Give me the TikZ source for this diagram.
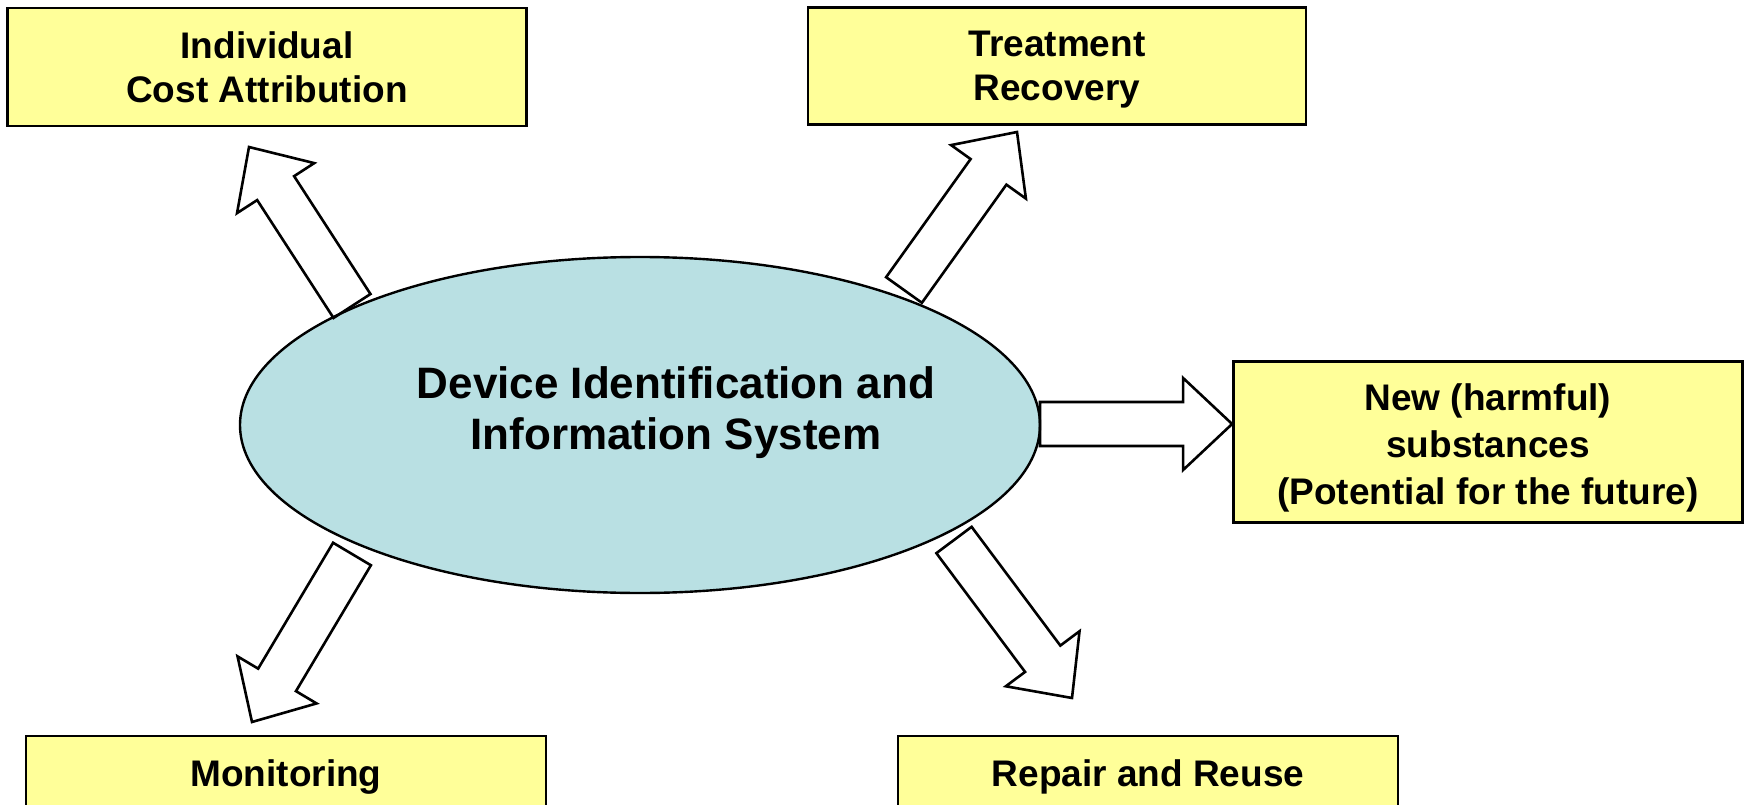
\documentclass[tikz,border=0pt]{standalone}
\usepackage{fontspec}
\setmainfont{Liberation Sans}
\usetikzlibrary{calc,shapes.geometric}
\definecolor{boxyellow}{RGB}{255,255,153}
\definecolor{ellblue}{RGB}{185,224,227}
\newcommand\blockarrow[2]{%
  \coordinate (#1-b) at ($(#2)!49pt!(#1)$);
  \draw[barrow] ($(#1)!22pt!90:(#2)$) -- ($(#1-b)!22pt!-90:(#1)$) -- ($(#1-b)!46pt!-90:(#1)$) -- (#2) -- ($(#1-b)!46pt!90:(#1)$) -- ($(#1-b)!22pt!90:(#1)$) -- ($(#1)!22pt!-90:(#2)$) -- cycle;}
\begin{document}
\begin{tikzpicture}[x=1pt,y=-1pt,
  box/.style={draw=black,line width=2.8pt,fill=boxyellow,rectangle,inner sep=0pt,align=center,
    font=\fontsize{37}{44}\selectfont\bfseries},
  ell/.style={draw=black,line width=2.4pt,fill=ellblue,ellipse,inner sep=0pt,minimum width=800pt,minimum height=336pt},
  elltext/.style={align=center,inner sep=0pt,font=\fontsize{44}{51}\selectfont\bfseries},
  barrow/.style={draw=black,line width=2.6pt,line join=miter}]
\useasboundingbox (0,0) rectangle (1749,805);
\clip (0,0) rectangle (1749,805);
\fill[white] (0,0) rectangle (1749,805);

\node[box,minimum width=519pt,minimum height=118pt] (cost) at (267,67) {Individual\\Cost Attribution};
\node[box,minimum width=498pt,minimum height=117pt] (treat) at (1057,66) {Treatment\\Recover\smash{y}};
\node[box,minimum width=509pt,minimum height=161pt,font=\fontsize{37}{47}\selectfont\bfseries] (new) at (1488,442) {\rule{0pt}{38pt}New (harmful)\\substances\\(Potential for the future)};
\node[box,minimum width=520pt,minimum height=82pt] (mon) at (286,777) {Monitoring};
\node[box,minimum width=500pt,minimum height=82pt] (rep) at (1148,777) {Repair and Reuse};

\node[ell] (sys) at (640,425) {};
\node[elltext] (systext) at (676,413) {Device Identification and\\Information System};

\coordinate (a1) at (352,306); \coordinate (h1) at (249,147);
\coordinate (a2) at (904,290); \coordinate (h2) at (1017,132);
\coordinate (a3) at (1040,424); \coordinate (h3) at (new.west |- a3);
\coordinate (a4) at (352,554); \coordinate (h4) at (252,722);
\coordinate (a5) at (954,540); \coordinate (h5) at (1072,698);
\blockarrow{a1}{h1}
\blockarrow{a2}{h2}
\blockarrow{a3}{h3}
\blockarrow{a4}{h4}
\blockarrow{a5}{h5}
\end{tikzpicture}
\end{document}
